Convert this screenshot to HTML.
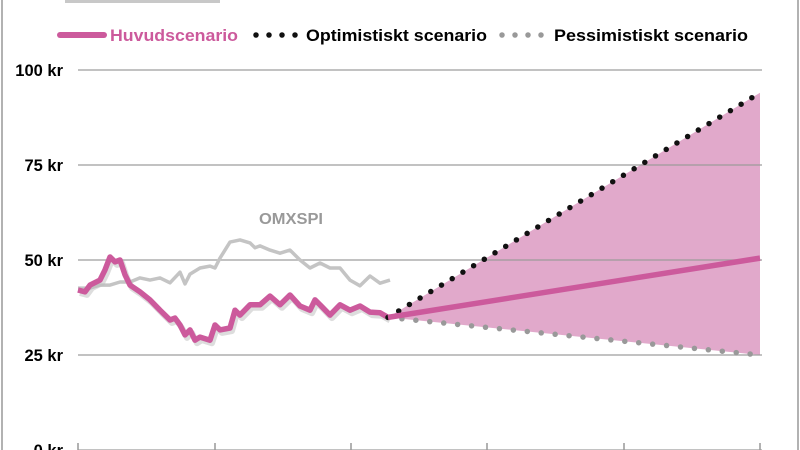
<!DOCTYPE html>
<html><head><meta charset="utf-8"><style>
html,body{margin:0;padding:0;background:#fff;}
svg{display:block;font-family:"Liberation Sans",Arial,sans-serif;}
</style></head><body>
<svg id="chart" width="800" height="450" viewBox="0 0 800 450">
<line x1="2" y1="0" x2="2" y2="450" stroke="#999" stroke-width="1.5"/>
<line x1="798" y1="0" x2="798" y2="450" stroke="#999" stroke-width="1.5"/>
<rect x="65" y="0" width="155" height="3" fill="#c8c8c8"/>
<g id="marks"></g>
<g id="grid"></g>
<g id="legend">
 <g>
  <line x1="60" y1="35" x2="104" y2="35" stroke="#cc5a9c" stroke-width="6" stroke-linecap="round"/>
  <text x="110" y="41" font-size="17" font-weight="bold" fill="#cc5a9c" textLength="128" lengthAdjust="spacingAndGlyphs">Huvudscenario</text>
 </g>
 <g>
  <line x1="256" y1="35" x2="302" y2="35" stroke="#111" stroke-width="5.5" stroke-linecap="round" stroke-dasharray="0 13"/>
  <text x="306" y="41" font-size="17" font-weight="bold" fill="#000" textLength="181" lengthAdjust="spacingAndGlyphs">Optimistiskt scenario</text>
 </g>
 <g>
  <line x1="502" y1="35" x2="548" y2="35" stroke="#999" stroke-width="5.5" stroke-linecap="round" stroke-dasharray="0 13"/>
  <text x="554" y="41" font-size="17" font-weight="bold" fill="#000" textLength="194" lengthAdjust="spacingAndGlyphs">Pessimistiskt scenario</text>
 </g>
</g>
<text x="259" y="224" font-size="16" font-weight="bold" fill="#999" textLength="64" lengthAdjust="spacingAndGlyphs">OMXSPI</text>
</svg>
<script>
// y-axis ticks
const yTicks = [0, 25, 50, 75, 100];
const yTickLabels = ["0 kr", "25 kr", "50 kr", "75 kr", "100 kr"];
// time in days from start (0..682), x-axis tick times
const xTicks = [0, 137, 273, 409, 546, 682];
// historical company stock
const histT = [0,7,12,22,27,32,37,42,47,52,62,72,82,92,97,102,107,112,117,122,132,137,142,152,157,162,172,182,192,202,212,222,232,237,242,252,262,272,282,292,302,310];
const histV = [42.1,41.6,43.4,44.7,47.4,50.8,49.5,50,46.1,43.4,41.6,39.5,36.8,34.2,34.7,32.9,30.3,31.6,28.9,29.7,28.9,32.9,31.6,32.1,36.8,35.5,38.2,38.2,40.5,38.2,40.8,37.9,36.8,39.5,38.2,35.5,38.2,36.8,37.9,36.3,36.1,34.9];
// OMXSPI index
const omxT = [0,12,22,32,42,52,62,72,82,92,102,107,112,122,132,137,142,152,162,172,177,182,192,202,212,222,232,242,252,262,272,282,292,302,312];
const omxV = [42.6,42.6,43.4,43.4,44.2,44.2,45.3,44.7,45.3,44,46.8,43.7,46.3,47.9,48.4,47.9,50.5,54.7,55.3,54.5,53.2,53.7,52.6,51.8,52.6,50,47.9,49.2,47.9,47.9,44.7,43.2,45.8,43.9,44.7];
// scenario projections: start and end
const projT = [310, 682];
const mainV = [34.9, 50.5];
const optV = [34.9, 94];
const pessV = [34.9, 25];

const X0=78, X1=760, Y0=450, PX=3.8;
const xs = t => X0 + (X1-X0)*t/682;
const ys = v => Y0 - v*PX;
const NS="http://www.w3.org/2000/svg";
function mk(tag, attrs, parent){const e=document.createElementNS(NS,tag);for(const k in attrs)e.setAttribute(k,attrs[k]);parent.appendChild(e);return e;}
const grid=document.getElementById('grid'), marks=document.getElementById('marks');

const fillPts=[[projT[0],optV[0]],[projT[1],optV[1]],[projT[1],pessV[1]],[projT[0],pessV[0]]].map(p=>xs(p[0])+","+ys(p[1])).join(" ");
const area=mk('polygon',{points:fillPts,fill:"#e1a9cb"},marks);



function path(T,V){return T.map((t,i)=>(i?"L":"M")+xs(t).toFixed(1)+","+ys(V[i]).toFixed(1)).join(" ");}

yTicks.forEach((v,i)=>{
  const l=mk('line',{x1:X0,x2:X1+2,y1:ys(v),y2:ys(v),stroke:"#999","stroke-width":1.5,opacity:0.8},grid);
  
  
  const t=mk('text',{x:63,y:ys(v)+6,"font-size":16.5,"font-weight":"bold","text-anchor":"end",fill:"#000"},grid);
  t.textContent=yTickLabels[i];
  
  
});
xTicks.forEach(t=>{
  const l=mk('line',{x1:xs(t),x2:xs(t),y1:443,y2:450,stroke:"#999","stroke-width":1.5},grid);
  
  
});

const omx=mk('path',{d:path(omxT,omxV),fill:"none",stroke:"#c4c4c4","stroke-width":3.5,"stroke-linejoin":"round"},grid);


const sh=mk('path',{d:path(histT,histV),fill:"none",stroke:"#bbb","stroke-width":6,opacity:0.5,transform:"translate(2,3)","stroke-linejoin":"round"},grid);


const hist=mk('path',{d:path(histT,histV),fill:"none",stroke:"#cc5a9c","stroke-width":5.5,"stroke-linejoin":"round"},grid);


const pes=mk('path',{d:path(projT,pessV),fill:"none",stroke:"#999","stroke-width":5.5,"stroke-linecap":"round","stroke-dasharray":"0 14"},grid);


const opt=mk('path',{d:path(projT,optV),fill:"none",stroke:"#111","stroke-width":5.5,"stroke-linecap":"round","stroke-dasharray":"0 12.5"},grid);


const mn=mk('path',{d:path(projT,mainV),fill:"none",stroke:"#cc5a9c","stroke-width":5.5},grid);


</script>
</body></html>
